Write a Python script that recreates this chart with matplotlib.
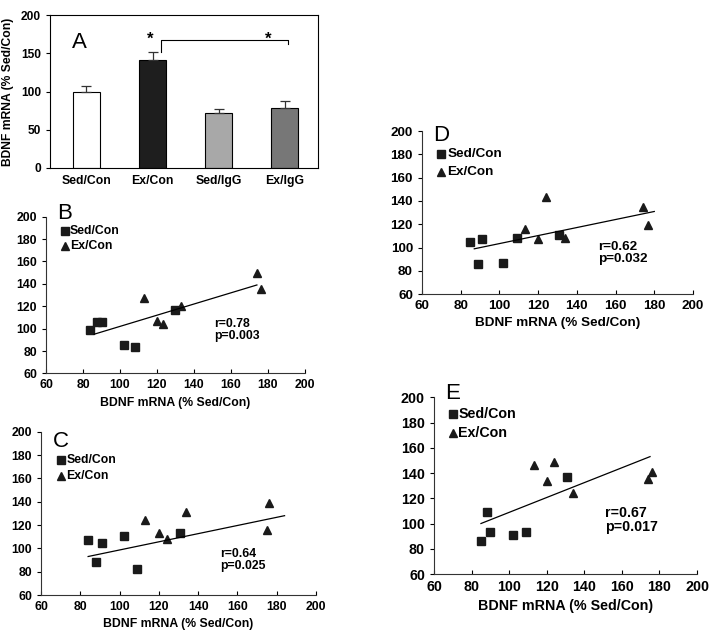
import numpy as np
import matplotlib
matplotlib.use("Agg")
import matplotlib.pyplot as plt

plt.rcParams["font.family"] = ["Liberation Sans", "DejaVu Sans"]
plt.rcParams["font.weight"] = "bold"

# ---- panel A: bar chart ----
bar_labels = ["Sed/Con", "Ex/Con", "Sed/IgG", "Ex/IgG"]
bar_means = [100, 141, 71.5, 79]
bar_errs = [7.5, 11, 5, 8.5]
bar_colors = ["white", "#1e1e1e", "#a8a8a8", "#777777"]

# ---- scatter panels ----
B_sed_x = [84, 87.5, 90.5, 102, 108, 130]
B_sed_y = [99, 106, 106, 85, 84, 117]
B_ex_x = [113, 120, 123, 133, 174, 176]
B_ex_y = [127, 107, 104, 120, 150, 135]
B_fit_x = [86, 174]
B_fit_y = [95, 139]

C_sed_x = [84, 91, 102, 131, 88, 109]
C_sed_y = [107, 105, 111, 113, 88, 82]
C_ex_x = [113, 120, 124, 134, 176, 175]
C_ex_y = [124, 113, 108, 131, 139, 116]
C_fit_x = [84, 184]
C_fit_y = [93, 128]

D_sed_x = [85, 91, 89, 102, 109, 131]
D_sed_y = [105, 107, 86, 87, 108, 111]
D_ex_x = [113, 120, 124, 134, 174, 177]
D_ex_y = [116, 107, 143, 108, 135, 119]
D_fit_x = [87, 180]
D_fit_y = [99, 131]

E_sed_x = [85, 88, 90, 102, 109, 131]
E_sed_y = [86, 109, 93, 91, 93, 137]
E_ex_x = [113, 120, 124, 134, 174, 176]
E_ex_y = [146, 134, 149, 124, 135, 141]
E_fit_x = [85, 175]
E_fit_y = [100, 153]

stats = {"B": ("0.78", "0.003"), "C": ("0.64", "0.025"),
         "D": ("0.62", "0.032"), "E": ("0.67", "0.017")}

XLABEL = "BDNF mRNA (% Sed/Con)"
W, H = 715, 639

fig = plt.figure(figsize=(W / 100, H / 100), dpi=100)


def box(l, r, t, b):
    """pixel box -> figure-fraction rect"""
    return [l / W, 1 - b / H, (r - l) / W, (b - t) / H]


# panel A
axA = fig.add_axes(box(50, 318, 15, 168))
xpos = np.arange(len(bar_labels))
axA.bar(xpos, bar_means, width=0.41, color=bar_colors, edgecolor="black", linewidth=0.8)
axA.errorbar(xpos, bar_means, yerr=[np.zeros(4), bar_errs], fmt="none",
             ecolor="#333333", elinewidth=0.9, capsize=3.5, capthick=0.9)
axA.set_xlim(-0.55, 3.5)
axA.set_ylim(0, 200)
axA.set_yticks([0, 50, 100, 150, 200])
axA.set_xticks(xpos)
axA.set_xticklabels(bar_labels, fontsize=8.8, fontweight="bold")
axA.tick_params(axis="x", length=0, pad=5)
axA.tick_params(axis="y", direction="out", length=3, labelsize=8.6, width=0.8)
axA.set_ylabel("BDNF mRNA (% Sed/Con)", fontsize=8.7, fontweight="bold", labelpad=5)
for s in axA.spines.values():
    s.set_linewidth(0.8)
axA.text(-0.1, 164, "A", fontsize=16, fontweight="normal", ha="center", va="center")
axA.text(0.97, 168, "*", fontsize=12, ha="center", va="center")
axA.text(2.74, 168, "*", fontsize=12, ha="center", va="center")
axA.plot([1.12, 1.12, 3.05, 3.05], [152, 167, 167, 162], color="black", lw=0.8)


def scatter_panel(rect, name, sx, sy, ex, ey, fx, fy, leg_y, gap, lab_y, txt_y, fs):
    ax = fig.add_axes(rect)
    ax.plot(sx, sy, "s", color="#1a1a1a", ms=5.6, ls="none", clip_on=False)
    ax.plot(ex, ey, "^", color="#1a1a1a", ms=6.3, ls="none", clip_on=False)
    ax.plot(fx, fy, color="black", lw=0.9)
    ax.set_xlim(60, 200)
    ax.set_ylim(60, 200)
    ax.set_xticks(range(60, 201, 20))
    ax.set_yticks(range(60, 201, 20))
    for side in ("top", "right"):
        ax.spines[side].set_visible(False)
    for side in ("left", "bottom"):
        ax.spines[side].set_linewidth(0.8)
        ax.spines[side].set_color("#333333")
    ax.tick_params(axis="x", direction="in", length=3, labelsize=fs, width=0.8, pad=4)
    ax.tick_params(axis="y", direction="out", length=3, labelsize=fs, width=0.8)
    ax.set_xlabel(XLABEL, fontsize=fs, fontweight="bold", labelpad=4)
    ax.text(66, lab_y, name, fontsize=16, fontweight="normal",
            ha="left", va="center", clip_on=False)
    ax.plot([70], [leg_y], "s", color="#1a1a1a", ms=5.2, clip_on=False)
    ax.plot([70], [leg_y - gap], "^", color="#1a1a1a", ms=5.8, clip_on=False)
    ax.text(73, leg_y, "Sed/Con", fontsize=fs, ha="left", va="center")
    ax.text(73, leg_y - gap, "Ex/Con", fontsize=fs, ha="left", va="center")
    r, p = stats[name]
    ax.text(151, txt_y, f"r={r}\np={p}", fontsize=fs, ha="left", va="center",
            linespacing=1.0)
    return ax


scatter_panel(box(46, 305, 216.7, 373.4), "B", B_sed_x, B_sed_y, B_ex_x, B_ex_y,
              B_fit_x, B_fit_y, 187.5, 13.7, 203, 99, 8.8)
scatter_panel(box(41, 316, 431.7, 595), "C", C_sed_x, C_sed_y, C_ex_x, C_ex_y,
              C_fit_x, C_fit_y, 176, 13.7, 192, 90, 8.8)
scatter_panel(box(422, 693, 131, 294.3), "D", D_sed_x, D_sed_y, D_ex_x, D_ex_y,
              D_fit_x, D_fit_y, 180, 15.4, 196, 95, 9.7)
scatter_panel(box(434, 697, 397.3, 574), "E", E_sed_x, E_sed_y, E_ex_x, E_ex_y,
              E_fit_x, E_fit_y, 186.5, 15, 203, 103, 10.3)

fig.savefig("out.png", dpi=100)
